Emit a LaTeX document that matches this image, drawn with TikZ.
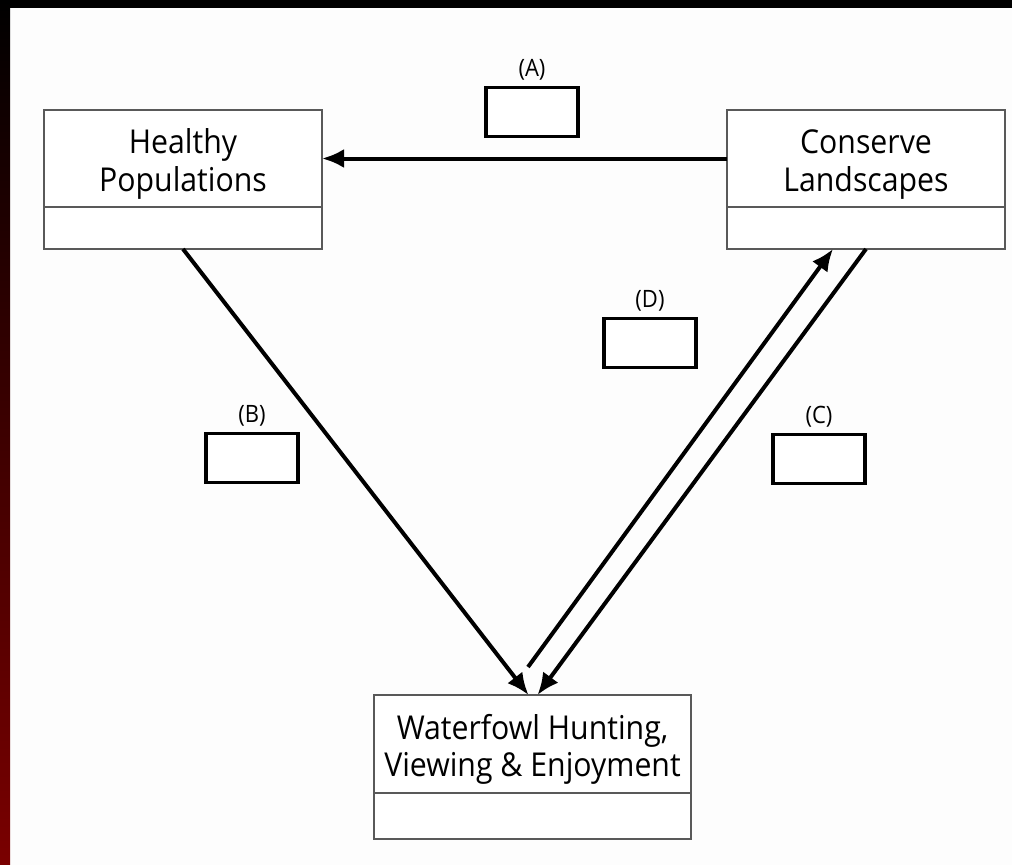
\documentclass[tikz,border=0pt]{standalone}
\usepackage{fontspec}
\setmainfont{Open Sans}[FakeStretch=0.92]
\usetikzlibrary{arrows.meta,positioning}
\definecolor{boxgray}{gray}{0.35}
\definecolor{deepred}{RGB}{122,0,0}
\definecolor{paper}{RGB}{253,253,253}
\newcommand{\topstrut}{\rule{0pt}{36bp}}
\tikzset{
  topbox/.style={draw=boxgray, line width=2bp, fill=white, minimum width=278bp, minimum height=97bp,
    align=center, inner sep=0pt, outer sep=0pt, font=\fontsize{33}{38}\selectfont},
  lowbox/.style={draw=boxgray, line width=2bp, fill=white, minimum width=278bp, minimum height=42bp,
    inner sep=0pt, outer sep=0pt},
  tagbox/.style={draw, line width=3.5bp, fill=white, minimum width=92bp, minimum height=49bp, inner sep=0pt,
    label={[font=\fontsize{24}{28}\selectfont, label distance=2bp]above:#1}},
  link/.style={line width=4bp, -{Latex[length=22bp,width=19bp]}},
}
\begin{document}
\begin{tikzpicture}[x=1bp,y=-1bp]
    \useasboundingbox (0,0) rectangle (1012,865);
    % frame of the slide
    \fill[paper] (0,0) rectangle (1012,865);
    \fill[black] (0,0) rectangle (1012,8);
    \shade[top color=black, bottom color=deepred] (0,0) rectangle (10,865);

    \node[topbox] (hp) at (183,158.5) {\topstrut Healthy\\Populations};
    \node[lowbox, below=0pt of hp] (hpx) {};
    \node[topbox] (cl) at (866,158.5) {\topstrut Conserve\\Landscapes};
    \node[lowbox, below=0pt of cl] (clx) {};
    \node[topbox, minimum width=317bp, minimum height=98bp] (wf) at (532.5,744) {\topstrut Waterfowl Hunting,\\Viewing \& Enjoyment};
    \node[lowbox, minimum width=317bp, minimum height=46bp, below=0pt of wf] (wfx) {};

    \node[tagbox=(A)] (ta) at (532,112) {};
    \node[tagbox=(B)] (tb) at (252,458) {};
    \node[tagbox=(C)] (tc) at (819,459) {};
    \node[tagbox=(D)] (td) at (650,343) {};

    \draw[link] (cl.west) -- (hp.east);
    \draw[link] (hpx.south) -- ([xshift=-4bp]wf.north);
    \draw[link] (clx.south) -- ([xshift=5bp]wf.north);
    \coordinate (dstart) at (528,667);
    \draw[link] (dstart) -- ([xshift=-33bp]clx.south);
\end{tikzpicture}
\end{document}
